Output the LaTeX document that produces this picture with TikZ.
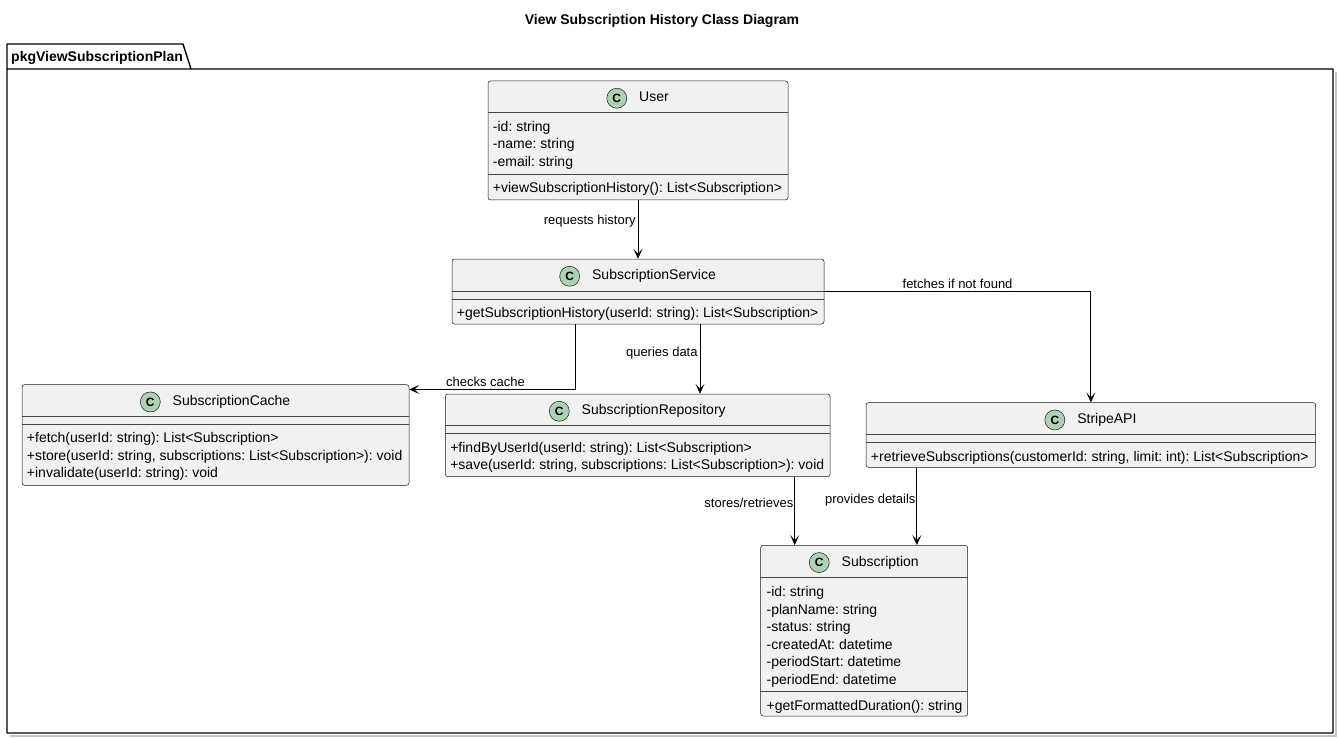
\documentclass[tikz,border=0pt]{standalone}
\usepackage{fontspec}
\setmainfont{Liberation Sans}
\usetikzlibrary{calc,positioning,arrows.meta}
\definecolor{clsfill}{HTML}{F1F1F1}
\definecolor{clsline}{HTML}{181818}
\definecolor{badgefill}{HTML}{ADD1B2}
\frenchspacing
\begin{document}
\begin{tikzpicture}[x=1pt,y=-1pt,
     cls/.style = {draw=clsline, fill=clsfill, rounded corners=2.5pt, line width=0.5pt, inner sep=0pt},
     badge/.style = {draw=clsline, fill=badgefill, circle, line width=0.5pt, minimum size=20pt, inner sep=0pt, font=\fontsize{12}{12}\selectfont\bfseries},
     cname/.style = {inner sep=0pt, font=\fontsize{14}{16}\selectfont, text height=10pt, text depth=3pt},
     member/.style = {anchor=west, inner sep=0pt, font=\fontsize{14}{16}\selectfont, text height=10pt, text depth=3pt},
     lbl/.style = {inner sep=0pt, font=\fontsize{13}{15}\selectfont, text height=9.5pt, text depth=3pt},
     sep/.style = {draw=clsline!80, line width=0.45pt},
     arrow/.style = {draw, -{Stealth[length=10pt,width=9pt,inset=5pt]}, line width=0.8pt}
    ]
    \useasboundingbox (0,0) rectangle (1338,738);

    \node [font=\fontsize{14}{16}\selectfont\bfseries] (title) at (662,21) {View Subscription History Class Diagram};

    % package frame
    \draw [gray!45, line width=1.5pt] (1335.8,72) -- (1335.8,735.8) -- (10,735.8);
    \draw [line width=1.4pt, line join=round] (191,69) -- (1333,69) -- (1333,733) -- (7,733) -- (7,44) -- (183,44) -- (191,69) -- (7,69);
    \node [anchor=west, inner sep=0pt, font=\fontsize{14}{16}\selectfont\bfseries] (pkgname) at (11,58) {pkgViewSubscriptionPlan};

    % classes
    \node [cls, minimum width=300pt, minimum height=119pt] (user) at (638,140.5) {};
    \node [cls, minimum width=372pt, minimum height=65pt] (service) at (638,291.5) {};
    \node [cls, minimum width=387pt, minimum height=100.6pt] (cache) at (215.5,435) {};
    \node [cls, minimum width=384.7pt, minimum height=82.7pt] (repo) at (637.7,435.35) {};
    \node [cls, minimum width=449.7pt, minimum height=64.6pt] (stripe) at (1090.85,435) {};
    \node [cls, minimum width=207pt, minimum height=170.7pt] (sub) at (864.2,630.65) {};

    % headers
    \node [cname] (username) at ($(user.north)+(16,17.5)$) {User};
    \node [badge, left=12pt of username] (userbadge) {C};
    \node [cname] (servicename) at ($(service.north)+(16,17.5)$) {SubscriptionService};
    \node [badge, left=12pt of servicename] (servicebadge) {C};
    \node [cname] (cachename) at ($(cache.north)+(16,17.5)$) {SubscriptionCache};
    \node [badge, left=12pt of cachename] (cachebadge) {C};
    \node [cname] (reponame) at ($(repo.north)+(16,17.5)$) {SubscriptionRepository};
    \node [badge, left=12pt of reponame] (repobadge) {C};
    \node [cname] (stripename) at ($(stripe.north)+(16,17.5)$) {StripeAPI};
    \node [badge, left=12pt of stripename] (stripebadge) {C};
    \node [cname] (subname) at ($(sub.north)+(16,17.5)$) {Subscription};
    \node [badge, left=12pt of subname] (subbadge) {C};

    % compartments
    \draw [sep] ($(user.north west)+(0,31)$) -- ($(user.north east)+(0,31)$);
    \draw [sep] ($(user.north west)+(0,93)$) -- ($(user.north east)+(0,93)$);
    \draw [sep] ($(service.north west)+(0,32)$) -- ($(service.north east)+(0,32)$);
    \draw [sep] ($(service.north west)+(0,40)$) -- ($(service.north east)+(0,40)$);
    \draw [sep] ($(cache.north west)+(0,32)$) -- ($(cache.north east)+(0,32)$);
    \draw [sep] ($(cache.north west)+(0,40)$) -- ($(cache.north east)+(0,40)$);
    \draw [sep] ($(repo.north west)+(0,31.7)$) -- ($(repo.north east)+(0,31.7)$);
    \draw [sep] ($(repo.north west)+(0,39.3)$) -- ($(repo.north east)+(0,39.3)$);
    \draw [sep] ($(stripe.north west)+(0,31.6)$) -- ($(stripe.north east)+(0,31.6)$);
    \draw [sep] ($(stripe.north west)+(0,39.6)$) -- ($(stripe.north east)+(0,39.6)$);
    \draw [sep] ($(sub.north west)+(0,32)$) -- ($(sub.north east)+(0,32)$);
    \draw [sep] ($(sub.north west)+(0,146.4)$) -- ($(sub.north east)+(0,146.4)$);

    % members
    \foreach \t [count=\i] in {-id: string, -name: string, -email: string}
      \node [member] (userattr\i) at ($(user.north west)+(5,29.5+17.5*\i)$) {\t};
    \node [member] (usermeth) at ($(user.north west)+(5,108)$) {+viewSubscriptionHistory(): List<Subscription>};
    \node [member] (servicemeth) at ($(service.north west)+(5,55)$) {+getSubscriptionHistory(userId: string): List<Subscription>};
    \foreach \t [count=\i] in {{+fetch(userId: string): List<Subscription>}, {+store(userId: string, subscriptions: List<Subscription>): void}, {+invalidate(userId: string): void}}
      \node [member] (cachemeth\i) at ($(cache.north west)+(5,37.5+17.5*\i)$) {\t};
    \foreach \t [count=\i] in {{+findByUserId(userId: string): List<Subscription>}, {+save(userId: string, subscriptions: List<Subscription>): void}}
      \node [member] (repometh\i) at ($(repo.north west)+(5,37.5+17.5*\i)$) {\t};
    \node [member] (stripemeth) at ($(stripe.north west)+(5,55.5)$) {+retrieveSubscriptions(customerId: string, limit: int): List<Subscription>};
    \foreach \t [count=\i] in {-id: string, -planName: string, -status: string, -createdAt: datetime, -periodStart: datetime, -periodEnd: datetime}
      \node [member] (subattr\i) at ($(sub.north west)+(6,30.5+17.5*\i)$) {\t};
    \node [member] (submeth) at ($(sub.north west)+(6,161.7)$) {+getFormattedDuration(): string};

    % relations
    \coordinate (srvc) at ([xshift=-63pt]service.south);
    \coordinate (srvq) at ([xshift=62pt]service.south);
    \coordinate (repos) at ([xshift=157pt]repo.south);
    \coordinate (stripes) at ([xshift=-174pt]stripe.south);

    \draw [arrow] (user) -- node [lbl, anchor=east, pos=0.36, xshift=-2pt] (lblreq) {requests history} (service);
    \draw [arrow] (srvc) |- node [lbl, anchor=south, pos=0.77, yshift=-0.5pt] (lblcache) {checks cache} ([yshift=-5pt]cache.north east);
    \draw [arrow] (srvq) -- node [lbl, anchor=east, pos=0.42, xshift=-2pt] (lblquery) {queries data} (srvq |- repo.north);
    \draw [arrow] (service.east) -| node [lbl, anchor=south, pos=0.25, yshift=-0.5pt] (lblfetch) {fetches if not found} (stripe.north);
    \draw [arrow] (repos) -- node [lbl, anchor=east, pos=0.4, xshift=-1pt] (lblstore) {stores/retrieves} (repos |- sub.north);
    \draw [arrow] (stripes) -- node [lbl, anchor=east, pos=0.42, xshift=-1pt] (lblprov) {provides details} (stripes |- sub.north);
\end{tikzpicture}
\end{document}
